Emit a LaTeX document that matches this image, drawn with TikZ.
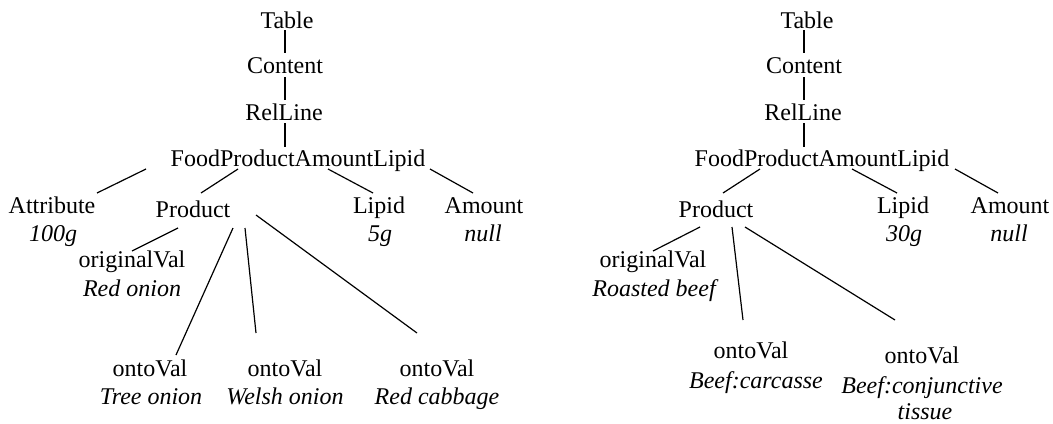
\documentclass[tikz,border=0pt]{standalone}
\usepackage{fontspec}
\setmainfont{Liberation Serif}
\tikzset{
	lbl/.style={font=\fontsize{12}{14}\selectfont, inner sep=0pt, anchor=base},
	val/.style={lbl, font=\fontsize{12}{14}\selectfont\itshape},
	edge/.style={line width=0.6pt}
}
\begin{document}
\begin{tikzpicture}[x=0.5pt,y=-0.5pt]
		\useasboundingbox (0,0) rectangle (1053,423);
		% left tree
		\node[lbl] (tabL) at (287,28) {Table};
		\node[lbl] (conL) at (285,73) {Content};
		\node[lbl] (relL) at (284,120) {RelLine};
		\node[lbl] (fpaL) at (298,166) {FoodProductAmountLipid};
		\node[lbl] (attL) at (52,213) {Attribute};
		\node[val] (attvL) at (53,241) {100g};
		\node[lbl] (prodL) at (193,217) {Product};
		\node[lbl] (lipL) at (379,213) {Lipid};
		\node[val] (lipvL) at (380,241) {5g};
		\node[lbl] (amtL) at (484,213) {Amount};
		\node[val] (amtvL) at (483,241) {null};
		\node[lbl] (origL) at (132,267) {originalVal};
		\node[val] (origvL) at (132,296) {Red onion};
		\node[lbl] (ontoL1) at (150,376) {ontoVal};
		\node[val] (ontovL1) at (151,404) {Tree onion};
		\node[lbl] (ontoL2) at (285,376) {ontoVal};
		\node[val] (ontovL2) at (285,404) {Welsh onion};
		\node[lbl] (ontoL3) at (437,376) {ontoVal};
		\node[val] (ontovL3) at (437,404) {Red cabbage};
		\draw[edge] ([shift={(-2,2)}]tabL.base) -- ([shift={(0,-20)}]conL.base);
		\draw[edge] ([shift={(0,4)}]conL.base) -- ([shift={(1,-20)}]relL.base);
		\draw[edge] ([shift={(1,3)}]relL.base) -- ([shift={(-13,-19)}]fpaL.base);
		\draw[edge] ([shift={(-152,3)}]fpaL.base) -- ([shift={(45,-20)}]attL.base);
		\draw[edge] ([shift={(-60,3)}]fpaL.base) -- ([shift={(8,-24)}]prodL.base);
		\draw[edge] ([shift={(30,3)}]fpaL.base) -- ([shift={(-6,-20)}]lipL.base);
		\draw[edge] ([shift={(132,3)}]fpaL.base) -- ([shift={(-11,-20)}]amtL.base);
		\draw[edge] ([shift={(-15,11)}]prodL.base) -- ([shift={(0,-16)}]origL.base);
		\draw[edge] ([shift={(40,11)}]prodL.base) -- ([shift={(26,-21)}]ontoL1.base);
		\draw[edge] ([shift={(52,11)}]prodL.base) -- ([shift={(-29,-43)}]ontoL2.base);
		\draw[edge] ([shift={(63,-2)}]prodL.base) -- ([shift={(-20,-43)}]ontoL3.base);
		% right tree
		\node[lbl] (tabR) at (807,28) {Table};
		\node[lbl] (conR) at (804,73) {Content};
		\node[lbl] (relR) at (803,120) {RelLine};
		\node[lbl] (fpaR) at (822,166) {FoodProductAmountLipid};
		\node[lbl] (prodR) at (716,217) {Product};
		\node[lbl] (lipR) at (903,213) {Lipid};
		\node[val] (lipvR) at (904,241) {30g};
		\node[lbl] (amtR) at (1010,213) {Amount};
		\node[val] (amtvR) at (1009,241) {null};
		\node[lbl] (origR) at (653,267) {originalVal};
		\node[val] (origvR) at (654,296) {Roasted beef};
		\node[lbl] (ontoR1) at (751,358) {ontoVal};
		\node[val] (ontovR1) at (756,388) {Beef:carcasse};
		\node[lbl] (ontoR2) at (922,363) {ontoVal};
		\node[val] (ontovR2) at (922,393) {Beef:conjunctive};
		\node[val] (tisR) at (925,419) {tissue};
		\draw[edge] ([shift={(-3,2)}]tabR.base) -- ([shift={(0,-20)}]conR.base);
		\draw[edge] ([shift={(0,4)}]conR.base) -- ([shift={(1,-20)}]relR.base);
		\draw[edge] ([shift={(1,3)}]relR.base) -- ([shift={(-18,-19)}]fpaR.base);
		\draw[edge] ([shift={(-62,3)}]fpaR.base) -- ([shift={(7,-24)}]prodR.base);
		\draw[edge] ([shift={(30,3)}]fpaR.base) -- ([shift={(-6,-20)}]lipR.base);
		\draw[edge] ([shift={(133,3)}]fpaR.base) -- ([shift={(-12,-20)}]amtR.base);
		\draw[edge] ([shift={(-16,10)}]prodR.base) -- ([shift={(0,-16)}]origR.base);
		\draw[edge] ([shift={(16,10)}]prodR.base) -- ([shift={(-8,-38)}]ontoR1.base);
		\draw[edge] ([shift={(29,10)}]prodR.base) -- ([shift={(-27,-43)}]ontoR2.base);
	\end{tikzpicture}
\end{document}
